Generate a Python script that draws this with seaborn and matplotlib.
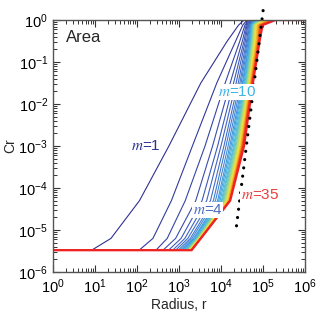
import numpy as np
import pandas as pd
import seaborn as sns
import matplotlib.pyplot as plt
from matplotlib.ticker import LogLocator, NullFormatter

# ---- data (log10 of radius where curve m reaches a level) ----
m_values = list(range(1, 36))
floor_cr = 3.3e-6

# log10(Cr) levels that every curve passes through, bottom to top
cr_levels = [-5.48, -5.2, -4.3, -3.0, -1.5, -0.5, -0.12, 0.0]

# log10(r) where each curve leaves the floor
r_leave = [0.92, 2.05, 2.45, 2.62, 2.75, 2.85, 2.92, 2.98, 3.03, 3.07,
           3.10, 3.13, 3.15, 3.17, 3.19, 3.20, 3.21, 3.22, 3.23, 3.24,
           3.25, 3.25, 3.26, 3.26, 3.27, 3.27, 3.28, 3.28, 3.28, 3.29,
           3.29, 3.29, 3.30, 3.30, 3.30]
r_52 = [1.38, 2.38, 2.72, 2.92, 3.05, 3.14, 3.21, 3.27, 3.31, 3.35,
        3.37, 3.39, 3.41, 3.42, 3.43, 3.44, 3.45, 3.46, 3.47, 3.47,
        3.48, 3.48, 3.49, 3.49, 3.50, 3.50, 3.50, 3.51, 3.51, 3.51,
        3.51, 3.52, 3.52, 3.52, 3.52]
r_43 = [2.06, 2.82, 3.15, 3.40, 3.55, 3.66, 3.75, 3.82, 3.87, 3.92,
        3.95, 3.98, 4.01, 4.03, 4.05, 4.07, 4.09, 4.10, 4.11, 4.12,
        4.13, 4.14, 4.15, 4.16, 4.17, 4.17, 4.18, 4.19, 4.19, 4.20,
        4.20, 4.21, 4.21, 4.22, 4.22]
r_30 = [2.76, 3.32, 3.62, 3.80, 3.92, 4.00, 4.07, 4.12, 4.17, 4.21,
        4.24, 4.27, 4.30, 4.32, 4.34, 4.36, 4.38, 4.39, 4.40, 4.41,
        4.42, 4.43, 4.44, 4.45, 4.46, 4.47, 4.48, 4.49, 4.49, 4.50,
        4.51, 4.51, 4.52, 4.53, 4.55]
r_15 = [3.52, 3.90, 4.10, 4.22, 4.30, 4.36, 4.41, 4.45, 4.48, 4.51,
        4.53, 4.55, 4.57, 4.59, 4.60, 4.61, 4.62, 4.63, 4.64, 4.65,
        4.66, 4.67, 4.68, 4.68, 4.69, 4.70, 4.70, 4.71, 4.72, 4.72,
        4.73, 4.73, 4.74, 4.75, 4.76]
r_05 = [4.15, 4.35, 4.45, 4.51, 4.55, 4.58, 4.61, 4.63, 4.65, 4.67,
        4.68, 4.70, 4.71, 4.72, 4.73, 4.74, 4.75, 4.76, 4.77, 4.78,
        4.79, 4.80, 4.81, 4.82, 4.83, 4.84, 4.85, 4.86, 4.87, 4.88,
        4.88, 4.89, 4.90, 4.91, 4.92]
r_012 = [4.42, 4.52, 4.57, 4.60, 4.62, 4.64, 4.66, 4.68, 4.70, 4.71,
         4.72, 4.73, 4.74, 4.75, 4.76, 4.77, 4.78, 4.79, 4.80, 4.81,
         4.82, 4.83, 4.84, 4.85, 4.86, 4.87, 4.88, 4.89, 4.90, 4.91,
         4.92, 4.93, 4.95, 4.97, 4.99]
r_top = [4.55, 4.62, 4.66, 4.69, 4.71, 4.73, 4.75, 4.77, 4.79, 4.80,
         4.82, 4.84, 4.86, 4.88, 4.90, 4.92, 4.94, 4.96, 4.98, 5.00,
         5.02, 5.04, 5.06, 5.08, 5.10, 5.12, 5.14, 5.16, 5.18, 5.20,
         5.22, 5.24, 5.26, 5.28, 5.30]

# dotted reference line (end points)
dot_r = [10**4.37, 10**5.02]
dot_cr = [10**-4.90, 10**0.36]

curve_colors = ['#2e3192', '#4169c8', '#3fb4e6', '#9fd88a',
                '#f5e43a', '#f7941d', '#ed1c24']

# build long table
rows = []
for i, m in enumerate(m_values):
    rs = [0.0, r_leave[i], r_52[i], r_43[i], r_30[i], r_15[i],
          r_05[i], r_012[i], r_top[i], 6.0]
    cs = [np.log10(floor_cr)] + cr_levels + [0.0]
    cs[1] = np.log10(floor_cr)
    for k, (lr, lc) in enumerate(zip(rs, cs)):
        rows.append({'m': m, 'k': k, 'r': 10**lr, 'Cr': 10**lc})
df = pd.DataFrame(rows)

sns.set_style('white')
plt.rcParams['font.family'] = ['Liberation Sans', 'DejaVu Sans']
plt.rcParams['mathtext.fontset'] = 'stix'

fig = plt.figure(figsize=(3.2, 3.13), dpi=100)
ax = fig.add_axes([0.1656, 0.131, 0.7874, 0.805])

pal = sns.blend_palette(curve_colors, n_colors=len(m_values))
sns.lineplot(data=df[df['m'] < 35], x='r', y='Cr', hue='m',
             palette=pal[:-1], sort=False, estimator=None,
             legend=False, linewidth=0.8, ax=ax)
sns.lineplot(data=df[df['m'] == 35], x='r', y='Cr', sort=False,
             estimator=None, color='#ee2222', linewidth=1.6, ax=ax)

ax.plot(dot_r, dot_cr, color='black', linewidth=2.3,
        linestyle=(0, (0.01, 2.6)), dash_capstyle='round', clip_on=False)

ax.set_xscale('log')
ax.set_yscale('log')
ax.set_xlim(1, 1e6)
ax.set_ylim(1e-6, 1)
ax.set_xticks([10**i for i in range(7)])
ax.set_yticks([10.0**-i for i in range(7)])
for axis in (ax.xaxis, ax.yaxis):
    axis.set_minor_locator(LogLocator(base=10, subs=np.arange(2, 10), numticks=20))
    axis.set_minor_formatter(NullFormatter())

ax.tick_params(which='both', direction='in', top=True, right=True,
               bottom=True, left=True,
               colors='#333333', labelcolor='black', labelsize=10.5)
ax.tick_params(which='major', length=5, width=0.8)
ax.tick_params(which='minor', length=3, width=0.7)
ax.tick_params(axis='x', pad=4)
for s in ax.spines.values():
    s.set_color('#555555')
    s.set_linewidth(1.0)

ax.set_xlabel('Radius, r', fontsize=10, labelpad=1)
ax.set_ylabel('Cr', fontsize=10, labelpad=1)

ax.text(0.05, 0.96, 'Area', transform=ax.transAxes, fontsize=12,
        va='top', ha='left')

box = dict(facecolor='white', edgecolor='none', pad=0.5)
ax.text(10**2.2, 10**-3.0, r'$m$=1', color='#2e3192', fontsize=11,
        ha='center', va='center', bbox=box)
ax.text(10**4.38, 10**-1.72, r'$m$=10', color='#3fb4e6', fontsize=11,
        ha='center', va='center', bbox=box)
ax.text(10**3.68, 10**-4.52, r'$m$=4', color='#4a6cc0', fontsize=11,
        ha='center', va='center', bbox=box)
ax.text(10**4.48, 10**-4.17, r'$m$=35', color='#ef3b3b', fontsize=11,
        ha='left', va='center', bbox=box)

fig.savefig('out.png', dpi=100)
